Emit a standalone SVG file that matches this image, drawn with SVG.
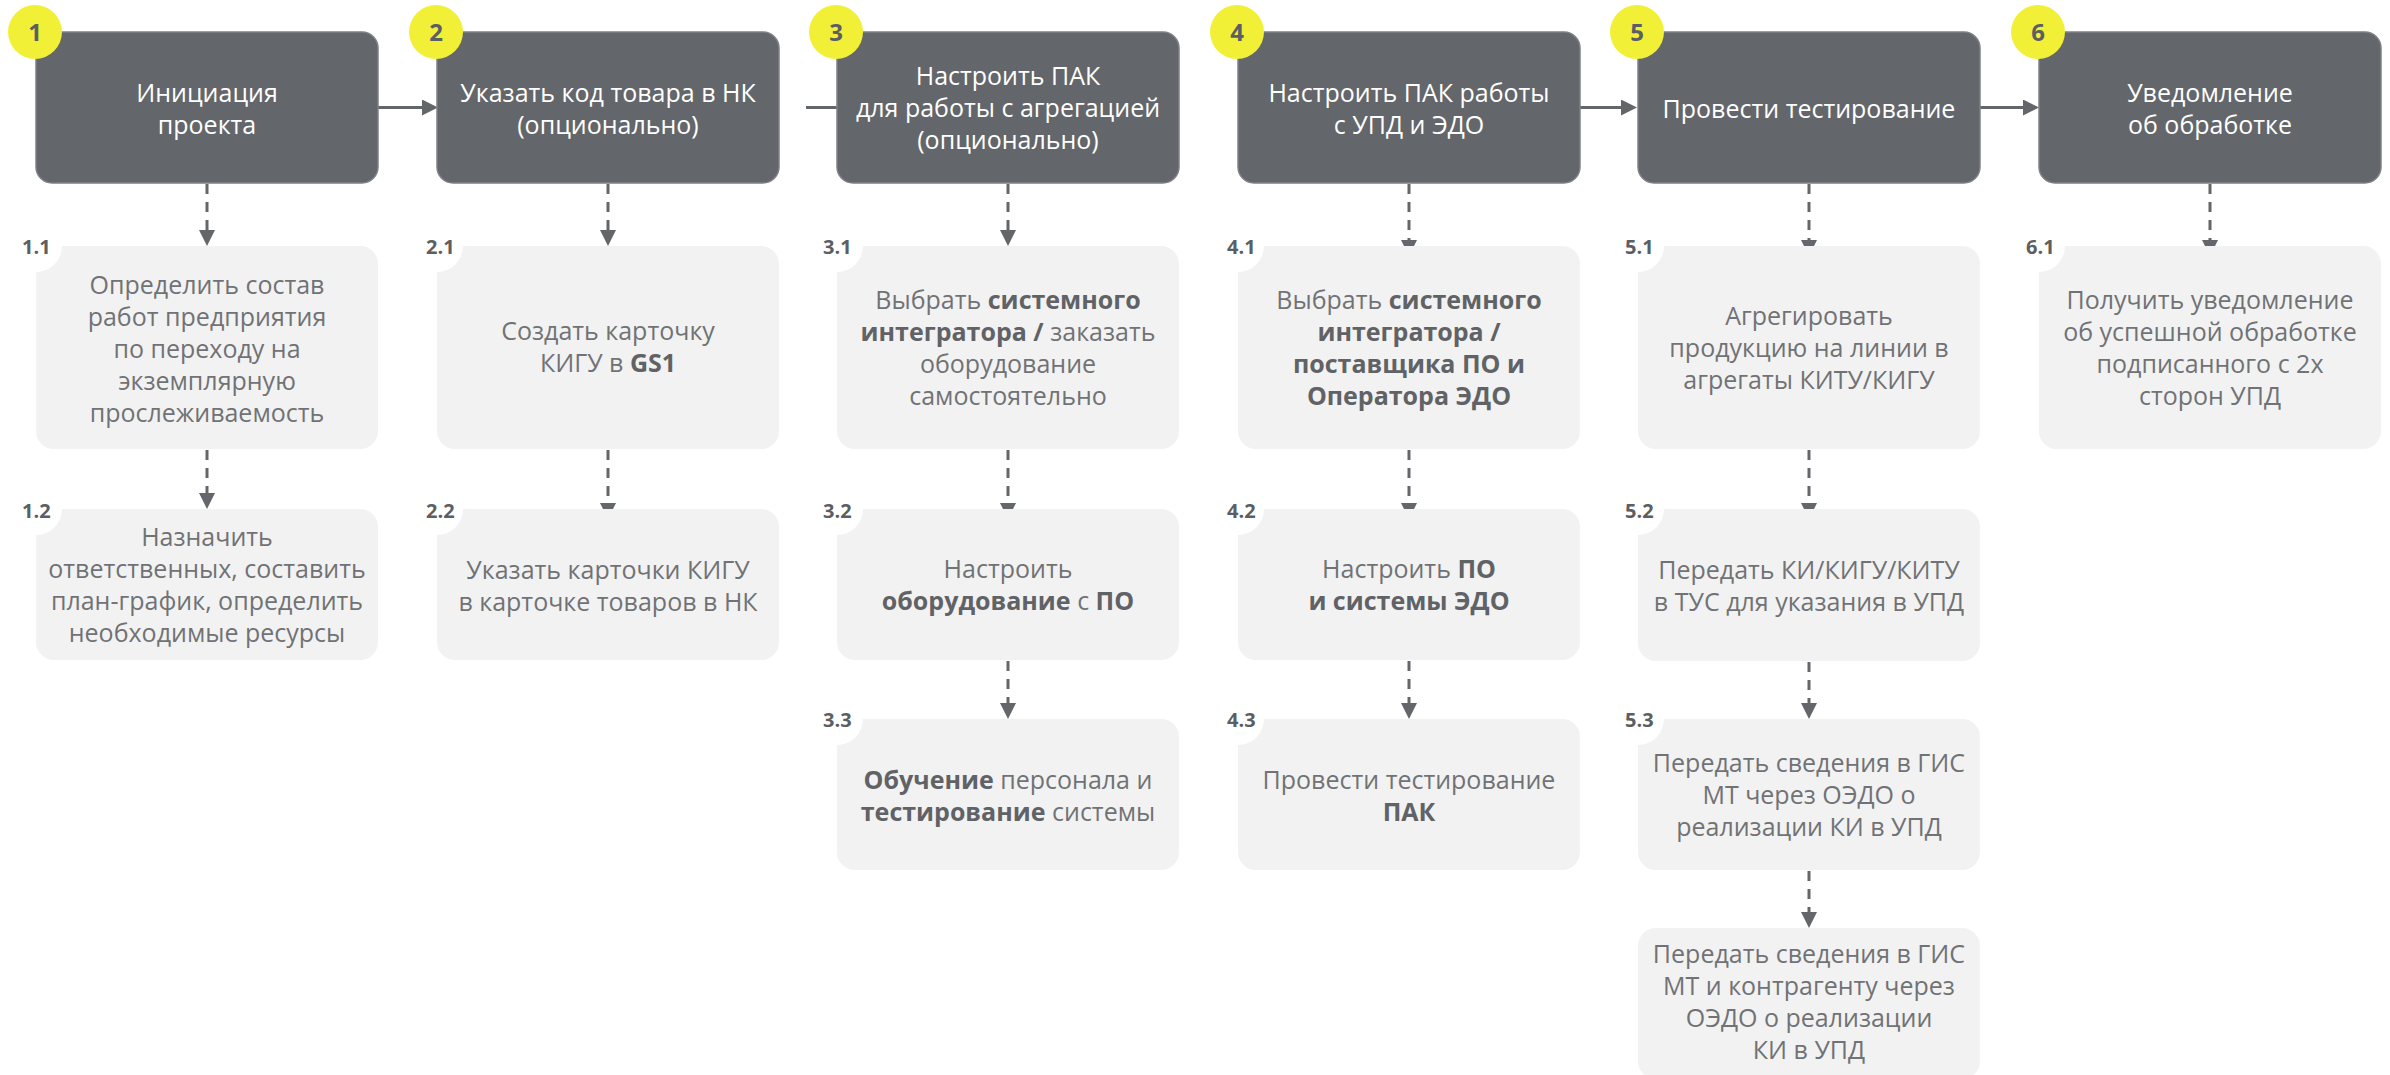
<svg xmlns="http://www.w3.org/2000/svg" width="2390" height="1075" viewBox="0 0 2390 1075">
<style>
.top{fill:#63666A;stroke:#7E8185;stroke-width:1.5}
.sub{fill:#F2F2F2}
.notch{fill:#FFFFFF}
.badge{fill:#F2F036}
.tw{font-family:"Open Sans","Noto Sans",sans-serif;font-size:25px;fill:#FFFFFF;text-anchor:middle}
.tg{font-family:"Open Sans","Noto Sans",sans-serif;font-size:25px;fill:#717275;text-anchor:middle}
.b{font-weight:700;fill:#606266}
.num{font-family:"Open Sans","Noto Sans",sans-serif;font-size:24px;font-weight:700;fill:#5B5E62;text-anchor:middle}
.lbl{font-family:"Open Sans","Noto Sans",sans-serif;font-size:20px;font-weight:700;fill:#5B5E62}
.conn{fill:none;stroke:#63666A;stroke-width:3}
.dash{stroke-dasharray:10 8}
</style>
<defs>
<marker id="ah" markerUnits="userSpaceOnUse" markerWidth="16" markerHeight="16" viewBox="0 0 16 16" refX="0" refY="8" orient="auto">
<path d="M0,0 L16,8 L0,16 Z" fill="#63666A"/>
</marker>
</defs>
<rect width="2390" height="1075" fill="#FFFFFF"/>
<g id="connectors">
<path class="conn" d="M378,107.5 H422" marker-end="url(#ah)"/>
<path class="conn" d="M806,107.5 H840" marker-end="url(#ah)"/>
<path class="conn" d="M1580,107.5 H1621" marker-end="url(#ah)"/>
<path class="conn" d="M1980,107.5 H2023" marker-end="url(#ah)"/>
<path class="conn dash" d="M207,184 V230" marker-end="url(#ah)"/>
<path class="conn dash" d="M207,450 V493" marker-end="url(#ah)"/>
<path class="conn dash" d="M608,184 V230" marker-end="url(#ah)"/>
<path class="conn dash" d="M608,450 V503" marker-end="url(#ah)"/>
<path class="conn dash" d="M1008,184 V230" marker-end="url(#ah)"/>
<path class="conn dash" d="M1008,450 V503" marker-end="url(#ah)"/>
<path class="conn dash" d="M1008,661 V703" marker-end="url(#ah)"/>
<path class="conn dash" d="M1409,184 V240" marker-end="url(#ah)"/>
<path class="conn dash" d="M1409,450 V503" marker-end="url(#ah)"/>
<path class="conn dash" d="M1409,661 V703" marker-end="url(#ah)"/>
<path class="conn dash" d="M1809,184 V240" marker-end="url(#ah)"/>
<path class="conn dash" d="M1809,450 V503" marker-end="url(#ah)"/>
<path class="conn dash" d="M1809,662 V703" marker-end="url(#ah)"/>
<path class="conn dash" d="M1809,871 V912" marker-end="url(#ah)"/>
<path class="conn dash" d="M2210,184 V240" marker-end="url(#ah)"/>
</g>

<g id="step1">
<rect class="top" x="36" y="32" width="342" height="151" rx="16"/>
<circle class="badge" cx="35" cy="32" r="27"/>
<text class="num" x="35" y="41">1</text>
<text class="tw" x="207" y="102">Инициация</text>
<text class="tw" x="207" y="134">проекта</text>
</g>
<g id="step2">
<rect class="top" x="437" y="32" width="342" height="151" rx="16"/>
<circle class="badge" cx="436" cy="32" r="27"/>
<text class="num" x="436" y="41">2</text>
<text class="tw" x="608" y="102">Указать код товара в НК</text>
<text class="tw" x="608" y="134">(опционально)</text>
</g>
<g id="step3">
<rect class="top" x="837" y="32" width="342" height="151" rx="16"/>
<circle class="badge" cx="836" cy="32" r="27"/>
<text class="num" x="836" y="41">3</text>
<text class="tw" x="1008" y="85">Настроить ПАК</text>
<text class="tw" x="1008" y="117">для работы с агрегацией</text>
<text class="tw" x="1008" y="149">(опционально)</text>
</g>
<g id="step4">
<rect class="top" x="1238" y="32" width="342" height="151" rx="16"/>
<circle class="badge" cx="1237" cy="32" r="27"/>
<text class="num" x="1237" y="41">4</text>
<text class="tw" x="1409" y="102">Настроить ПАК работы</text>
<text class="tw" x="1409" y="134">с УПД и ЭДО</text>
</g>
<g id="step5">
<rect class="top" x="1638" y="32" width="342" height="151" rx="16"/>
<circle class="badge" cx="1637" cy="32" r="27"/>
<text class="num" x="1637" y="41">5</text>
<text class="tw" x="1809" y="118">Провести тестирование</text>
</g>
<g id="step6">
<rect class="top" x="2039" y="32" width="342" height="151" rx="16"/>
<circle class="badge" cx="2038" cy="32" r="27"/>
<text class="num" x="2038" y="41">6</text>
<text class="tw" x="2210" y="102">Уведомление</text>
<text class="tw" x="2210" y="134">об обработке</text>
</g>

<g id="step1-1">
<rect class="sub" x="36" y="246" width="342" height="203" rx="18"/>
<circle class="notch" cx="36" cy="246" r="26"/>
<text class="lbl" x="22" y="254">1.1</text>
<text class="tg" x="207" y="294">Определить состав</text>
<text class="tg" x="207" y="326">работ предприятия</text>
<text class="tg" x="207" y="358">по переходу на</text>
<text class="tg" x="207" y="390">экземплярную</text>
<text class="tg" x="207" y="422">прослеживаемость</text>
</g>
<g id="step1-2">
<rect class="sub" x="36" y="509" width="342" height="151" rx="18"/>
<circle class="notch" cx="36" cy="509" r="26"/>
<text class="lbl" x="22" y="518">1.2</text>
<text class="tg" x="207" y="546">Назначить</text>
<text class="tg" x="207" y="578">ответственных, составить</text>
<text class="tg" x="207" y="610">план-график, определить</text>
<text class="tg" x="207" y="642">необходимые ресурсы</text>
</g>
<g id="step2-1">
<rect class="sub" x="437" y="246" width="342" height="203" rx="18"/>
<circle class="notch" cx="437" cy="246" r="26"/>
<text class="lbl" x="426" y="254">2.1</text>
<text class="tg" x="608" y="340">Создать карточку</text>
<text class="tg" x="608" y="372">КИГУ в <tspan class="b">GS1</tspan></text>
</g>
<g id="step2-2">
<rect class="sub" x="437" y="509" width="342" height="151" rx="18"/>
<circle class="notch" cx="437" cy="509" r="26"/>
<text class="lbl" x="426" y="518">2.2</text>
<text class="tg" x="608" y="579">Указать карточки КИГУ</text>
<text class="tg" x="608" y="611">в карточке товаров в НК</text>
</g>
<g id="step3-1">
<rect class="sub" x="837" y="246" width="342" height="203" rx="18"/>
<circle class="notch" cx="837" cy="246" r="26"/>
<text class="lbl" x="823" y="254">3.1</text>
<text class="tg" x="1008" y="309">Выбрать <tspan class="b">системного</tspan></text>
<text class="tg" x="1008" y="341"><tspan class="b">интегратора /</tspan> заказать</text>
<text class="tg" x="1008" y="373">оборудование</text>
<text class="tg" x="1008" y="405">самостоятельно</text>
</g>
<g id="step3-2">
<rect class="sub" x="837" y="509" width="342" height="151" rx="18"/>
<circle class="notch" cx="837" cy="509" r="26"/>
<text class="lbl" x="823" y="518">3.2</text>
<text class="tg" x="1008" y="578">Настроить</text>
<text class="tg" x="1008" y="610"><tspan class="b">оборудование</tspan> с <tspan class="b">ПО</tspan></text>
</g>
<g id="step3-3">
<rect class="sub" x="837" y="719" width="342" height="151" rx="18"/>
<circle class="notch" cx="837" cy="719" r="26"/>
<text class="lbl" x="823" y="727">3.3</text>
<text class="tg" x="1008" y="789"><tspan class="b">Обучение</tspan> персонала и</text>
<text class="tg" x="1008" y="821"><tspan class="b">тестирование</tspan> системы</text>
</g>
<g id="step4-1">
<rect class="sub" x="1238" y="246" width="342" height="203" rx="18"/>
<circle class="notch" cx="1238" cy="246" r="26"/>
<text class="lbl" x="1227" y="254">4.1</text>
<text class="tg" x="1409" y="309">Выбрать <tspan class="b">системного</tspan></text>
<text class="tg" x="1409" y="341"><tspan class="b">интегратора /</tspan></text>
<text class="tg" x="1409" y="373"><tspan class="b">поставщика ПО и</tspan></text>
<text class="tg" x="1409" y="405"><tspan class="b">Оператора ЭДО</tspan></text>
</g>
<g id="step4-2">
<rect class="sub" x="1238" y="509" width="342" height="151" rx="18"/>
<circle class="notch" cx="1238" cy="509" r="26"/>
<text class="lbl" x="1227" y="518">4.2</text>
<text class="tg" x="1409" y="578">Настроить <tspan class="b">ПО</tspan></text>
<text class="tg" x="1409" y="610"><tspan class="b">и системы ЭДО</tspan></text>
</g>
<g id="step4-3">
<rect class="sub" x="1238" y="719" width="342" height="151" rx="18"/>
<circle class="notch" cx="1238" cy="719" r="26"/>
<text class="lbl" x="1227" y="727">4.3</text>
<text class="tg" x="1409" y="789">Провести тестирование</text>
<text class="tg" x="1409" y="821"><tspan class="b">ПАК</tspan></text>
</g>
<g id="step5-1">
<rect class="sub" x="1638" y="246" width="342" height="203" rx="18"/>
<circle class="notch" cx="1638" cy="246" r="26"/>
<text class="lbl" x="1625" y="254">5.1</text>
<text class="tg" x="1809" y="325">Агрегировать</text>
<text class="tg" x="1809" y="357">продукцию на линии в</text>
<text class="tg" x="1809" y="389">агрегаты КИТУ/КИГУ</text>
</g>
<g id="step5-2">
<rect class="sub" x="1638" y="509" width="342" height="152" rx="18"/>
<circle class="notch" cx="1638" cy="509" r="26"/>
<text class="lbl" x="1625" y="518">5.2</text>
<text class="tg" x="1809" y="579">Передать КИ/КИГУ/КИТУ</text>
<text class="tg" x="1809" y="611">в ТУС для указания в УПД</text>
</g>
<g id="step5-3">
<rect class="sub" x="1638" y="719" width="342" height="151" rx="18"/>
<circle class="notch" cx="1638" cy="719" r="26"/>
<text class="lbl" x="1625" y="727">5.3</text>
<text class="tg" x="1809" y="772">Передать сведения в ГИС</text>
<text class="tg" x="1809" y="804">МТ через ОЭДО о</text>
<text class="tg" x="1809" y="836">реализации КИ в УПД</text>
</g>
<g id="step5-4">
<rect class="sub" x="1638" y="928" width="342" height="151" rx="18"/>
<text class="tg" x="1809" y="963">Передать сведения в ГИС</text>
<text class="tg" x="1809" y="995">МТ и контрагенту через</text>
<text class="tg" x="1809" y="1027">ОЭДО о реализации</text>
<text class="tg" x="1809" y="1059">КИ в УПД</text>
</g>
<g id="step6-1">
<rect class="sub" x="2039" y="246" width="342" height="203" rx="18"/>
<circle class="notch" cx="2039" cy="246" r="26"/>
<text class="lbl" x="2026" y="254">6.1</text>
<text class="tg" x="2210" y="309">Получить уведомление</text>
<text class="tg" x="2210" y="341">об успешной обработке</text>
<text class="tg" x="2210" y="373">подписанного с 2х</text>
<text class="tg" x="2210" y="405">сторон УПД</text>
</g>
</svg>
